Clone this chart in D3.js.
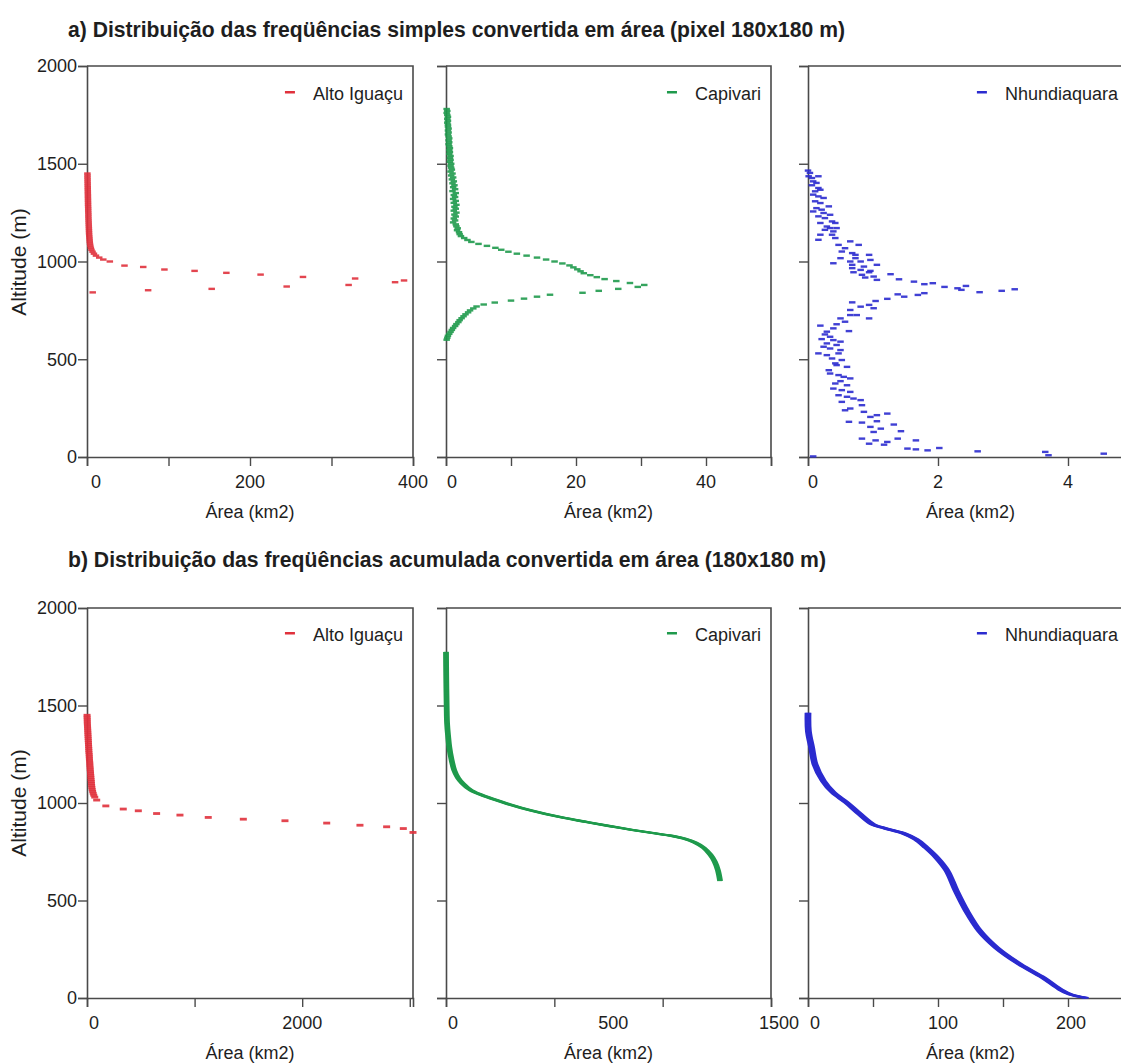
<!DOCTYPE html>
<html><head><meta charset="utf-8">
<script src="https://cdn.jsdelivr.net/npm/d3@7"></script>
<style>
body{margin:0;background:#fff}
text{font-family:"Liberation Sans",Arial,sans-serif;fill:#1e1e1e}
</style>
</head><body>
<svg id="chart" width="1121" height="1064"></svg>
<script>
// ---------------- DATA ----------------
const titleA = "a) Distribuição das freqüências simples convertida em área (pixel 180x180 m)";
const titleB = "b) Distribuição das freqüências acumulada convertida em área (180x180 m)";
const seriesNames = ["Alto Iguaçu", "Capivari", "Nhundiaquara"];
const yAxisTitle = "Altitude (m)";
const xAxisTitle = "Área (km2)";
const altTicks = [0, 500, 1000, 1500, 2000];
const altTickLabels = ["0", "500", "1000", "1500", "2000"];

// x domains / ticks / labels per panel
const xDomainsA = [[0, 400], [0, 50], [0, 5]];
const xTicksA = [[0, 100, 200, 300, 400], [0, 10, 20, 30, 40, 50], [0, 2, 4]];
const xLabelValsA = [[0, 200, 400], [0, 20, 40], [0, 2, 4]];
const xLabelsA = [["0", "200", "400"], ["0", "20", "40"], ["0", "2", "4"]];
const xDomainsB = [[0, 3030], [0, 1500], [0, 250]];
const xTicksB = [[0, 1000, 2000, 3000], [0, 500, 1000, 1500], [0, 50, 100, 150, 200, 250]];
const xLabelValsB = [[0, 2000], [0, 500, 1500], [0, 100, 200]];
const xLabelsB = [["0", "2000"], ["0", "500", "1500"], ["0", "100", "200"]];

// a) simple frequencies  [area km2, altitude m]
const altoSimple = [
 [0.5,1450],[0.6,1440],[0.6,1430],[0.7,1420],[0.7,1410],[0.8,1400],[0.8,1390],[0.9,1380],[0.9,1370],[1.0,1360],
 [1.0,1350],[1.1,1340],[1.1,1330],[1.2,1320],[1.2,1310],[1.3,1300],[1.3,1290],[1.4,1280],[1.5,1270],[1.5,1260],
 [1.6,1250],[1.7,1240],[1.7,1230],[1.8,1220],[1.9,1210],[2.0,1200],[2.1,1190],[2.2,1180],[2.3,1170],[2.4,1160],
 [2.5,1150],[2.6,1140],[2.8,1130],[3.0,1120],[3.2,1110],[3.4,1100],[3.7,1090],[4.1,1080],[4.7,1070],[5.5,1060],
 [6.8,1050],[8.5,1040],[11,1030],[15,1020],[20,1010],[28,1000],
 [46,979],[69,972],[95,959],[132,952],[171,942],[213,933],[265,921],[329,913],[389,903],
 [378,894],[321,880],[245,872],[153,860],[75,853],[7,842]
];
const capivariSimple = [
 [0.1,1780],[0.2,1770],[0.1,1760],[0.2,1750],[0.3,1740],[0.2,1730],[0.3,1720],[0.2,1710],[0.3,1700],[0.3,1690],
 [0.4,1680],[0.3,1670],[0.4,1660],[0.3,1650],[0.4,1640],[0.5,1630],[0.4,1620],[0.5,1610],[0.4,1600],[0.5,1590],
 [0.6,1580],[0.5,1570],[0.6,1560],[0.5,1550],[0.7,1540],[0.6,1530],[0.7,1520],[0.6,1510],[0.8,1500],[0.7,1490],
 [0.8,1480],[0.9,1470],[0.7,1460],[1.0,1450],[0.8,1440],[1.1,1430],[0.9,1420],[1.2,1410],[1.0,1400],[1.3,1390],
 [1.1,1380],[1.4,1370],[1.0,1360],[1.5,1350],[1.2,1340],[1.4,1330],[1.1,1320],[1.5,1310],[1.2,1300],[1.6,1290],
 [1.3,1280],[1.5,1270],[1.2,1260],[1.6,1250],[1.3,1240],[1.5,1230],[1.2,1220],[1.4,1210],[1.1,1200],[1.5,1190],
 [1.6,1180],[1.8,1170],[1.7,1160],[2.0,1150],[2.1,1140],[2.3,1130],[2.8,1120],[3.3,1110],[3.9,1100],[5.0,1090],
 [6.3,1080],[7.6,1070],[8.5,1060],[9.6,1050],[10.9,1040],[12.4,1030],[14,1020],[15.4,1010],[16.7,1000],[17.9,990],
 [19,980],[19.6,970],[20.2,960],[20.7,950],[21.2,940],[22.2,930],[23.2,920],[24.4,910],[26.2,900],[28.3,890],
 [30.5,880],[29.5,870],[26.5,860],[23.5,850],[21,840],[16,830],[14,820],[12,810],[10,800],[7.5,790],
 [5.8,780],[4.7,770],[4.2,760],[3.7,750],[3.4,740],[3.0,730],[2.7,720],[2.4,710],[2.1,700],[1.9,690],
 [1.6,680],[1.4,670],[1.1,660],[0.9,650],[0.7,640],[0.5,630],[0.3,620],[0.2,610],[0.1,600]
];
const nhundiaquaraSimple = [
 [0.0,1465],[0.03,1453],[0.01,1436],[0.06,1427],[0.16,1436],[0.08,1410],[0.13,1402],[0.06,1390],[0.16,1376],[0.19,1367],
 [0.11,1359],[0.08,1342],[0.16,1333],[0.24,1325],[0.11,1308],[0.19,1299],[0.32,1282],[0.13,1273],[0.21,1265],[0.08,1256],
 [0.24,1248],[0.16,1231],[0.34,1239],[0.26,1222],[0.37,1205],[0.19,1197],[0.42,1197],[0.29,1179],[0.34,1171],[0.44,1171],
 [0.26,1162],[0.39,1154],[0.19,1137],[0.37,1137],[0.42,1120],[0.16,1111],[0.65,1103],[0.78,1085],[0.47,1085],[0.57,1068],
 [0.52,1051],[0.68,1043],[0.73,1034],[0.94,1034],[0.50,1017],[0.73,1017],[0.65,1000],[0.81,1000],[0.39,991],[0.96,1008],
 [0.68,983],[0.86,974],[1.06,983],[0.68,966],[0.81,957],[0.96,952],[0.70,945],[0.83,932],[0.94,945],[0.88,918],
 [1.06,906],[1.01,923],[1.27,935],[1.40,909],[1.63,897],[1.79,884],[1.92,889],[2.10,870],[2.30,863],[2.43,875],
 [2.36,855],[2.64,843],[2.98,850],[3.18,858],
 [1.22,809],[1.38,832],[1.48,820],[1.69,829],[1.79,838],[1.04,798],[0.94,778],[0.68,791],[0.81,769],[0.65,752],
 [1.01,761],[0.75,726],[0.65,726],[0.94,709],[0.50,709],[0.57,692],[0.44,679],[0.19,672],[0.39,658],[0.29,641],
 [0.63,644],[0.26,627],[0.34,615],[0.21,603],[0.39,598],[0.29,581],[0.50,590],[0.44,573],[0.24,564],[0.34,555],
 [0.16,530],[0.50,547],[0.47,530],[0.29,521],[0.37,504],[0.52,496],[0.42,479],[0.44,470],[0.60,461],[0.32,444],
 [0.34,427],[0.47,419],[0.55,410],[0.65,402],[0.50,388],[0.42,376],[0.60,367],[0.39,350],[0.52,342],[0.65,333],
 [0.47,316],[0.60,308],[0.70,299],[0.52,282],[0.81,291],[0.83,265],[0.65,248],[0.57,239],[0.86,231],[1.06,214],
 [1.22,222],[0.96,205],[0.63,180],[0.83,176],[1.06,183],[1.32,166],[0.96,154],[1.12,145],[1.01,128],[1.43,132],
 [0.83,94],[1.04,85],[1.22,77],[1.38,94],[1.66,85],[0.94,68],[1.17,63],[1.53,43],[1.66,39],[1.84,34],
 [2.02,46],[2.61,29],[3.65,26],[3.70,9],[4.55,17],[0.08,3]
];

// b) cumulative frequencies  [area km2, altitude m]
const altoCumul = [
 [0.5,1450],[1,1440],[2,1430],[2.5,1420],[3,1410],[4,1400],[5,1390],[6,1380],[7,1370],[8,1360],
 [9,1350],[10,1340],[11,1330],[12,1320],[13,1310],[14,1300],[15,1290],[16,1280],[17,1270],[18,1260],
 [20,1250],[21,1240],[22,1230],[23,1220],[25,1210],[26,1200],[27,1190],[29,1180],[30,1170],[32,1160],
 [33,1150],[35,1140],[36,1130],[38,1120],[40,1110],[41,1100],[43,1090],[45,1080],[48,1070],[52,1060],
 [57,1050],[63,1040],[72,1030],[90,1015],
 [175,985],[337,969],[477,960],[647,946],[864,938],[1127,926],[1453,917],[1840,909],[2228,897],[2537,886],
 [2785,878],[2940,869],[3030,849]
];
const capivariCumul = [
 [0,1775],[1,1650],[3,1500],[5,1408],[10,1340],[15,1288],[25,1225],[38,1168],[55,1130],[77,1100],
 [115,1065],[192,1030],[284,996],[391,962],[529,927],[652,902],[805,872],[958,845],[1040,832],[1100,817],
 [1150,797],[1190,770],[1220,735],[1240,700],[1255,655],[1265,600]
];
const nhundiaquaraCumul = [
 [0,1463],[0.3,1369],[2.8,1284],[5.4,1198],[11.8,1113],[19.5,1053],[29.7,1002],[40,942],[50,890],[60,869],
 [74,843],[83,814],[91,771],[99,720],[107,652],[114,549],[122,446],[132,344],[145,258],[163,173],
 [181,104],[194,44],[202,18],[214,1]
];

// ---------------- LAYOUT / STYLE ----------------
const colors = ["#e0313c", "#1f9a4c", "#2b2bcf"];
const cols = [[87, 413], [446, 771], [808, 1133]];
const rows = [
  {top: 66, bottom: 457, titleY: 37, xTitleY: 518, legendY: 100, yTitleCY: 262},
  {top: 608, bottom: 998, titleY: 567, xTitleY: 1059, legendY: 641, yTitleCY: 803}
];
const labelDxA = [[9, 0, 0], [6, 0, 0], [5, 0, 0]];
const labelDxB = [[7, 0], [7, 59, 8], [7, 5, 3]];
const lineOffsets = [[], [-2, -1, 0, 1, 2], [-2.5, -1.5, -0.5, 0.5, 1.5, 2.5]];
const axisColor = "#4a4a4a";
const W = 1121;

const svg = d3.select("#chart");

// titles
svg.append("text").attr("x", 68).attr("y", rows[0].titleY)
  .attr("font-size", 22).attr("font-weight", "bold")
  .attr("textLength", 777).attr("lengthAdjust", "spacingAndGlyphs").text(titleA);
svg.append("text").attr("x", 68).attr("y", rows[1].titleY)
  .attr("font-size", 22).attr("font-weight", "bold")
  .attr("textLength", 758).attr("lengthAdjust", "spacingAndGlyphs").text(titleB);

const rowSpecs = [
  {domains: xDomainsA, ticks: xTicksA, labVals: xLabelValsA, labs: xLabelsA, dx: labelDxA,
   data: [altoSimple, capivariSimple, nhundiaquaraSimple], kinds: ["dash", "dash", "dash"]},
  {domains: xDomainsB, ticks: xTicksB, labVals: xLabelValsB, labs: xLabelsB, dx: labelDxB,
   data: [altoCumul, capivariCumul, nhundiaquaraCumul], kinds: ["dash", "line", "line"]}
];

rowSpecs.forEach((spec, r) => {
  const row = rows[r];
  const y = d3.scaleLinear().domain([0, 2000]).range([row.bottom, row.top]);
  // y axis title
  svg.append("text")
    .attr("transform", `translate(26,${row.yTitleCY}) rotate(-90)`)
    .attr("text-anchor", "middle").attr("font-size", 21).text(yAxisTitle);

  cols.forEach((c, i) => {
    const x = d3.scaleLinear().domain(spec.domains[i]).range([c[0], c[1]]);
    const g = svg.append("g");

    // frame (top and right)
    g.append("path")
      .attr("d", `M${c[0]},${row.top}H${c[1]}V${row.bottom}`)
      .attr("fill", "none").attr("stroke", axisColor).attr("stroke-width", 1.6);

    // y axis
    const ya = g.append("g").attr("transform", `translate(${c[0]},0)`)
      .call(d3.axisLeft(y).tickValues(altTicks).tickSize(9).tickPadding(1)
        .tickFormat((d, k) => i === 0 ? altTickLabels[k] : ""));
    ya.select(".domain").attr("stroke", axisColor).attr("stroke-width", 1.6);
    ya.selectAll(".tick line").attr("stroke", axisColor).attr("stroke-width", 1.4);
    ya.selectAll(".tick text").attr("font-size", 18).attr("fill", "#1e1e1e")
      .attr("font-family", '"Liberation Sans",Arial,sans-serif');

    // x axis
    const xa = g.append("g").attr("transform", `translate(0,${row.bottom})`)
      .call(d3.axisBottom(x).tickValues(spec.ticks[i]).tickSize(9).tickFormat(""));
    xa.select(".domain").attr("stroke", axisColor).attr("stroke-width", 1.6);
    xa.selectAll(".tick line").attr("stroke", axisColor).attr("stroke-width", 1.4);

    // x tick labels
    g.selectAll(null).data(spec.labVals[i]).enter().append("text")
      .attr("x", (d, k) => x(d) + spec.dx[i][k])
      .attr("y", row.bottom + 31)
      .attr("text-anchor", "middle").attr("font-size", 18)
      .text((d, k) => spec.labs[i][k]);

    // x axis title
    g.append("text").attr("x", (c[0] + c[1]) / 2).attr("y", row.xTitleY)
      .attr("text-anchor", "middle").attr("font-size", 18).text(xAxisTitle);

    // legend
    const lx = Math.min(c[1] - 10, W - 3);
    const lt = g.append("text").attr("x", lx).attr("y", row.legendY)
      .attr("text-anchor", "end").attr("font-size", 18).text(seriesNames[i]);
    const w = lt.node().getComputedTextLength();
    g.append("rect").attr("x", lx - w - 28).attr("y", row.legendY - 9)
      .attr("width", 10).attr("height", 2.5).attr("fill", colors[i]);

    // data marks
    const data = spec.data[i];
    if (spec.kinds[i] === "dash") {
      const dw = r === 0 ? 6.5 : 7, dh = r === 0 ? 2.4 : 2.8;
      g.selectAll(null).data(data).enter().append("rect")
        .attr("x", d => x(d[0]) - dw / 2)
        .attr("y", d => y(d[1]) - dh / 2)
        .attr("width", dw).attr("height", dh)
        .attr("fill", colors[i]).attr("opacity", 0.9);
    } else {
      const line = d3.line().x(d => x(d[0])).y(d => y(d[1])).curve(d3.curveCatmullRom.alpha(0.5));
      lineOffsets[i].forEach(off => {
        g.append("path").datum(data).attr("d", line)
          .attr("transform", `translate(${off},0)`)
          .attr("fill", "none").attr("stroke", colors[i]).attr("stroke-width", 1.8);
      });
    }
  });
});
</script>
</body></html>
